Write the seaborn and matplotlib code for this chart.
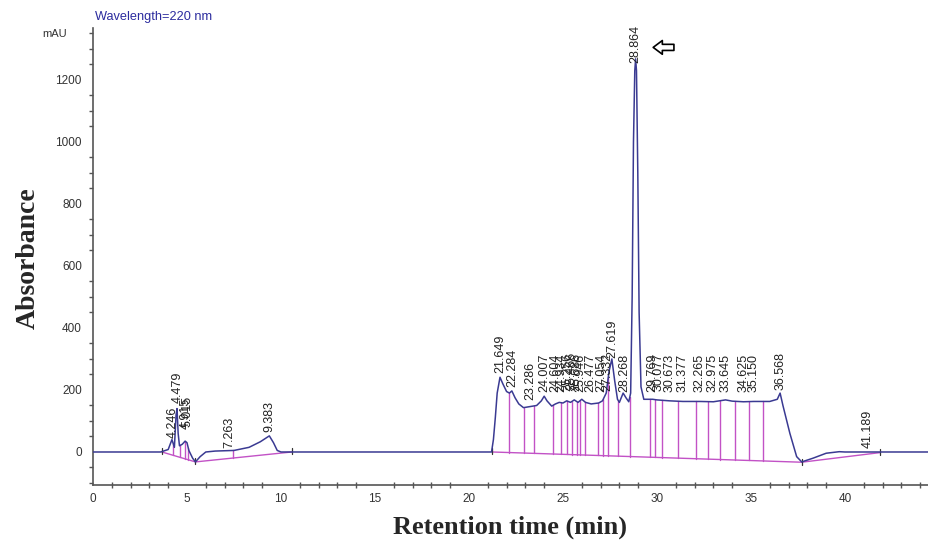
"""HPLC chromatogram at 220 nm, redrawn with seaborn/matplotlib."""

import matplotlib

matplotlib.use("Agg")
import matplotlib.pyplot as plt
import numpy as np
import seaborn as sns
from matplotlib.ticker import MultipleLocator

sns.set_theme(style="white")
plt.rcParams["font.family"] = ["Liberation Sans", "DejaVu Sans"]

# signal trace (min, mAU)
trace_time = [
    0.0, 3.6, 3.75, 4.0, 4.2, 4.33, 4.42, 4.47, 4.53, 4.6, 4.75, 4.9, 5.0,
    5.1, 5.3, 5.45, 5.7, 6.0, 6.5, 7.5, 8.3, 8.9, 9.38, 9.6, 9.8, 10.0,
    21.2, 21.3, 21.4, 21.5, 21.65, 21.8, 22.0, 22.15, 22.28, 22.45, 22.65,
    22.9, 23.3, 23.6, 23.85, 24.0, 24.15, 24.4, 24.6, 24.8, 25.0, 25.2,
    25.4, 25.6, 25.8, 26.0, 26.2, 26.5, 26.9, 27.1, 27.3, 27.45, 27.6,
    27.75, 27.9, 28.0, 28.2, 28.35, 28.5, 28.6, 28.68, 28.75, 28.82,
    28.864, 28.91, 28.98, 29.05, 29.15, 29.3, 29.77, 30.0, 30.67, 31.38,
    32.27, 33.0, 33.65, 34.0, 34.6, 35.15, 36.0, 36.4, 36.55, 36.7, 37.07,
    37.43, 37.7, 38.3, 39.0, 39.7, 40.0, 44.5,
]
trace_mau = [
    0, 0, 3, 8, 40, 15, 120, 140, 60, 20, 25, 35, 30,
    5, -20, -32, -15, 0, 3, 5, 15, 33, 52, 30, 5, 0,
    0, 40, 110, 190, 241, 220, 195, 190, 197, 175, 155,
    143, 147, 150, 165, 180, 165, 148, 155, 160, 158, 165,
    160, 168, 160, 170, 160, 155, 158, 165, 190, 260, 300,
    230, 170, 160, 190, 175, 162, 190, 500, 1000, 1230,
    1268, 1230, 900, 450, 210, 170, 170, 168, 165, 163,
    163, 162, 168, 164, 162, 163, 163, 170, 190, 150, 60,
    -15, -32, -20, -4, 1, 0, 0,
]

# integration baselines (start, dip, end)
baseline_left_t = [3.67, 5.45, 10.57]
baseline_left_y = [0, -32, 0]
baseline_main_t = [21.25, 37.7, 41.86]
baseline_main_y = [0, -33, -2]

# peak split lines
drop_left = [4.27, 4.63, 4.89, 5.07, 7.45]
drop_main = [
    22.14, 22.93, 23.44, 24.49, 24.88, 25.2, 25.47, 25.73, 25.9, 26.17,
    26.88, 27.14, 27.41, 27.94, 28.56, 29.63, 29.89, 30.25, 31.13, 32.1,
    32.73, 33.35, 34.15, 34.91, 35.62,
]

# retention time labels and the height where each label starts
peak_labels = [
    "4.246", "4.479", "4.915", "5.015", "7.263", "9.383",
    "21.649", "22.284", "23.286", "24.007", "24.604", "24.934", "25.256",
    "25.466", "25.686", "25.946", "26.477", "27.054", "27.332", "27.619",
    "28.268", "28.864", "29.769", "30.077", "30.673", "31.377", "32.265",
    "32.975", "33.645", "34.625", "35.150", "36.568", "41.189",
]
label_base = [
    45, 158, 75, 80, 13, 65,
    255, 210, 168, 193, 193, 193, 196,
    199, 196, 193, 193, 193, 196, 303,
    193, 1255, 193, 196, 193, 193, 193,
    193, 193, 193, 193, 200, 13,
]

TRACE = "#3a3a92"
MAGENTA = "#c252c6"
AXIS = "#555555"

fig = plt.figure(figsize=(9.29, 5.46), dpi=100)
ax = fig.add_axes([0.1001, 0.1117, 0.8999, 0.837])

# baselines and split lines
for bt, by, drops in [
    (baseline_left_t, baseline_left_y, drop_left),
    (baseline_main_t, baseline_main_y, drop_main),
]:
    ax.plot(bt, by, color=MAGENTA, lw=1.0, zorder=2)
    for t in drops:
        lo = np.interp(t, bt, by)
        hi = np.interp(t, trace_time, trace_mau)
        ax.plot([t, t], [lo, hi], color=MAGENTA, lw=1.0, zorder=2)
    for t, y in zip(bt, by):
        ax.plot([t, t], [y - 8, y + 12], color="#333333", lw=0.9, zorder=3)

sns.lineplot(
    x=trace_time, y=trace_mau, ax=ax, color=TRACE, lw=1.1,
    estimator=None, sort=False, zorder=4,
)

for lab, base in zip(peak_labels, label_base):
    ax.text(
        float(lab), base, lab, rotation=90, ha="center", va="bottom",
        fontsize=9, color="#222222", zorder=5,
    )

# hollow arrow pointing at the main peak
ax.annotate(
    "", xy=(29.65, 1305), xytext=(31.05, 1305),
    arrowprops=dict(
        arrowstyle="simple,head_length=0.6,head_width=0.9,tail_width=0.4",
        fc="white", ec="black", lw=1.2, mutation_scale=11,
    ),
)

ax.set_xlim(0, 44.47)
ax.set_ylim(-106.5, 1367.5)
ax.xaxis.set_major_locator(MultipleLocator(5))
ax.xaxis.set_minor_locator(MultipleLocator(1))
ax.yaxis.set_major_locator(MultipleLocator(200))
ax.yaxis.set_minor_locator(MultipleLocator(50))
ax.set_yticks([0, 200, 400, 600, 800, 1000, 1200])

for side in ["top", "right"]:
    ax.spines[side].set_visible(False)
for side in ["left", "bottom"]:
    ax.spines[side].set_color(AXIS)
    ax.spines[side].set_linewidth(1.2)

ax.tick_params(axis="y", which="major", direction="out", length=6,
               width=1, color=AXIS, labelsize=8.5, labelcolor="#333333", pad=2)
ax.tick_params(axis="y", which="minor", direction="out", length=3,
               width=1, color=AXIS, left=True)
ax.tick_params(axis="x", which="major", direction="inout", length=8,
               width=1, color=AXIS, labelsize=8.5, labelcolor="#333333", pad=2)
ax.tick_params(axis="x", which="minor", direction="inout", length=4,
               width=1, color=AXIS, bottom=True)
ax.set_xlabel("")
ax.set_ylabel("")

fig.text(95 / 929, 1 - 17 / 546, "Wavelength=220 nm", color="#2b2b9e",
         fontsize=9.2, ha="left", va="center")
fig.text(42 / 929, 1 - 34 / 546, "mAU", color="#333333", fontsize=8,
         ha="left", va="center")
fig.text(28 / 929, 1 - 258 / 546, "Absorbance", rotation=90,
         ha="center", va="center", fontsize=20, fontweight="bold",
         family="Liberation Serif")
fig.text(510 / 929, 1 - 527 / 546, "Retention time (min)",
         ha="center", va="center", fontsize=19, fontweight="bold",
         family="Liberation Serif")

fig.savefig("out.png", dpi=100)
